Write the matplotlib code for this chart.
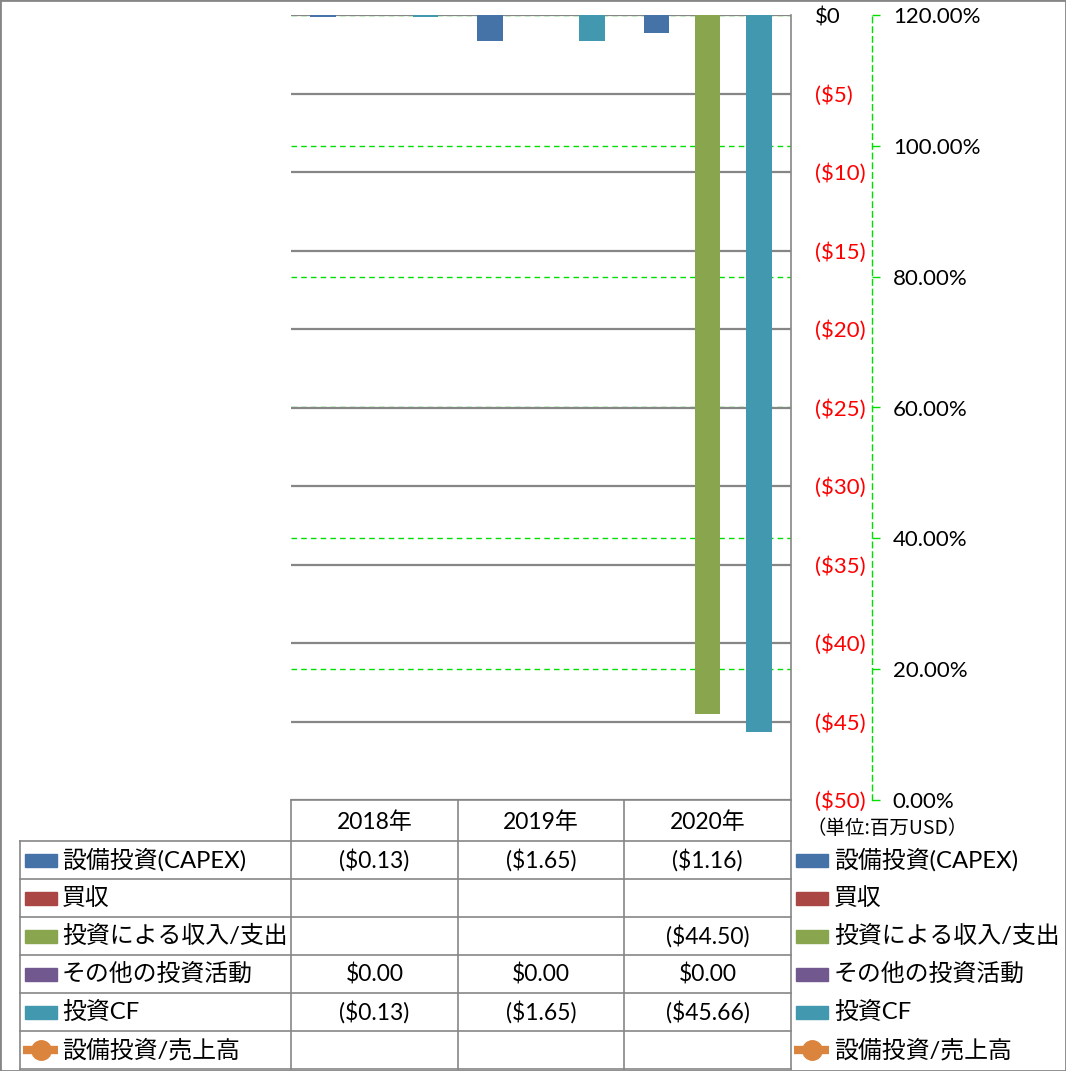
import numpy as np
import matplotlib.pyplot as plt
from matplotlib.lines import Line2D
from matplotlib.patches import Rectangle
from matplotlib.ticker import FuncFormatter

plt.rcParams['font.family'] = ['Lato', 'Noto Sans CJK JP']

# data (million USD)
years = ['2018年', '2019年', '2020年']
series_names = ['設備投資(CAPEX)', '買収', '投資による収入/支出', 'その他の投資活動', '投資CF']
capex = [-0.13, -1.65, -1.16]
acquisition = [np.nan, np.nan, np.nan]
invest_income = [np.nan, np.nan, -44.50]
other_invest = [0.00, 0.00, 0.00]
invest_cf = [-0.13, -1.65, -45.66]
capex_to_sales = [np.nan, np.nan, np.nan]
line_name = '設備投資/売上高'

colors = ['#4572A7', '#AA4643', '#89A54E', '#71588F', '#4198AF']
line_color = '#DB843D'
grid_gray = '#868686'
green = '#00E000'

W, H = 1066, 1071
fig = plt.figure(figsize=(W / 100, H / 100), dpi=100)


def fx(x):
    return x / W


def fy(y):
    return 1 - y / H


ax = fig.add_axes([fx(291), fy(800), 500 / W, 785 / H])
ax2 = ax.twinx()
ax.set_zorder(2)
ax.patch.set_visible(False)
ax2.set_zorder(1)

# bars
all_series = [capex, acquisition, invest_income, other_invest, invest_cf]
x = np.arange(len(years))
w = 0.1536
for j, vals in enumerate(all_series):
    v = np.array(vals, dtype=float)
    ok = ~np.isnan(v)
    ax.bar(x[ok] + (j - 2) * w, v[ok], width=w, color=colors[j], zorder=3)

ax.set_xlim(-0.5, 2.5)
ax.set_xticks([])
ax.set_ylim(-50, 0)
ax.set_yticks(np.arange(-50, 1, 5))
ax.yaxis.tick_right()
ax.yaxis.set_major_formatter(FuncFormatter(
    lambda v, p: '$0' if v == 0 else '(${:.0f})'.format(-v)))
ax.tick_params(axis='y', length=0, pad=17, labelsize=16)
for lab, v in zip(ax.get_yticklabels(), np.arange(-50, 1, 5)):
    lab.set_color('black' if v == 0 else 'red')
ax.grid(axis='y', color=grid_gray, lw=1.6, zorder=0)
ax.set_axisbelow(True)
for s in ['left', 'top']:
    ax.spines[s].set_visible(False)
ax.spines['right'].set_color(grid_gray)
ax.spines['bottom'].set_color(grid_gray)
ax.spines['right'].set_linewidth(1.2)
ax.spines['bottom'].set_linewidth(1.2)

# secondary axis (line series has no values)
ax2.plot(x, capex_to_sales, color=line_color, marker='o')
ax2.set_ylim(0, 1.2)
ax2.set_yticks(np.arange(0, 1.21, 0.2))
ax2.yaxis.set_major_formatter(FuncFormatter(lambda v, p: '{:.2f}%'.format(v * 100)))
ax2.tick_params(axis='y', color=green, length=6, width=1, labelcolor='black',
                pad=9, labelsize=16)
ax2.grid(axis='y', color=green, ls=(0, (4, 3)), lw=1)
for s in ['left', 'top', 'bottom']:
    ax2.spines[s].set_visible(False)
ax2.spines['right'].set_position(('axes', 581 / 500))
ax2.spines['right'].set_color(green)
ax2.spines['right'].set_linestyle((0, (4, 3)))
ax2.spines['right'].set_linewidth(1)

fig.text(fx(806), fy(828), '（単位:百万USD）', fontsize=14, va='center', ha='left',
         family=['Noto Sans CJK JP'])


# data table
def hline(y, x0, x1):
    fig.add_artist(Line2D([fx(x0), fx(x1)], [fy(y), fy(y)], color=grid_gray, lw=1.2,
                          transform=fig.transFigure))


def vline(x0, y0, y1):
    fig.add_artist(Line2D([fx(x0), fx(x0)], [fy(y0), fy(y1)], color=grid_gray, lw=1.2,
                          transform=fig.transFigure))


row_edges = [841, 879, 917, 955, 993, 1031, 1069]
col_edges = [291, 458, 624, 791]
for y in row_edges:
    hline(y, 20, 791)
vline(20, 841, 1069)
for xc in col_edges[:-1]:
    vline(xc, 800, 1069)
vline(791, 800, 1069)

col_centers = [(col_edges[i] + col_edges[i + 1]) / 2 for i in range(3)]
for cx, yr in zip(col_centers, years):
    fig.text(fx(cx), fy(822), yr, ha='center', va='center', fontsize=16.5)


def fmt(v):
    if np.isnan(v):
        return ''
    if v < 0:
        return '(${:.2f})'.format(-v)
    return '${:.2f}'.format(v)


row_centers = [(row_edges[i] + row_edges[i + 1]) / 2 for i in range(6)]
for r, (name, vals) in enumerate(zip(series_names + [line_name],
                                     all_series + [capex_to_sales])):
    yc = row_centers[r]
    for cx, v in zip(col_centers, vals):
        fig.text(fx(cx), fy(yc), fmt(v), ha='center', va='center', fontsize=16.5)
    for kx, tx in [(25, 62), (796, 834)]:
        if r < 5:
            fig.add_artist(Rectangle((fx(kx), fy(yc + 6.5)), 32 / W, 13 / H,
                                     color=colors[r], transform=fig.transFigure))
        else:
            fig.add_artist(Line2D([fx(kx - 2), fx(kx + 33)], [fy(yc), fy(yc)],
                                  color=line_color, lw=6, solid_capstyle='butt',
                                  transform=fig.transFigure))
            fig.add_artist(Line2D([fx(kx + 16)], [fy(yc)], color=line_color,
                                  marker='o', markersize=14, lw=0,
                                  transform=fig.transFigure))
        fig.text(fx(tx), fy(yc), name, ha='left', va='center', fontsize=17.2)

# outer border
fig.add_artist(Rectangle((0, 0), 1, 1, fill=False, edgecolor=grid_gray, lw=2,
                         transform=fig.transFigure))

fig.savefig('out.png', dpi=100)
